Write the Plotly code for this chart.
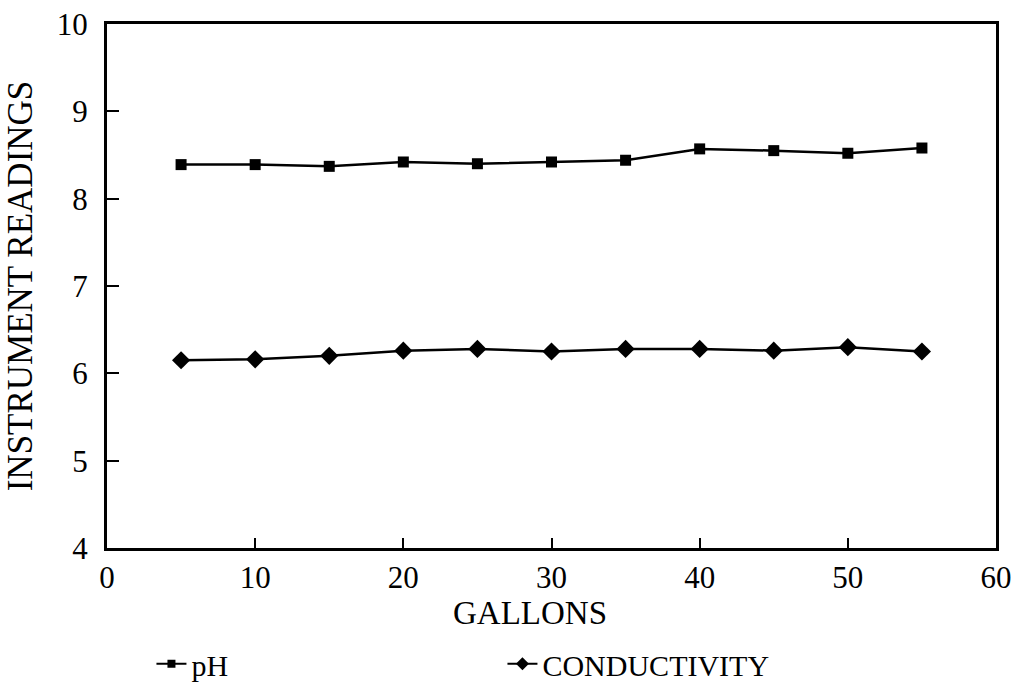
import plotly.graph_objects as go

gallons = [5, 10, 15, 20, 25, 30, 35, 40, 45, 50, 55]
ph = [8.39, 8.39, 8.37, 8.42, 8.40, 8.42, 8.44, 8.57, 8.55, 8.52, 8.58]
conductivity = [6.15, 6.16, 6.20, 6.26, 6.28, 6.25, 6.28, 6.28, 6.26, 6.30, 6.25]

x_ticks = [0, 10, 20, 30, 40, 50, 60]
y_ticks = [4, 5, 6, 7, 8, 9, 10]

FONT = "Liberation Serif"

fig = go.Figure()
fig.add_trace(go.Scatter(
    x=gallons, y=ph, name="pH", mode="lines+markers", showlegend=False,
    line=dict(color="black", width=2.5),
    marker=dict(symbol="square", size=11, color="black"),
))
fig.add_trace(go.Scatter(
    x=gallons, y=conductivity, name="CONDUCTIVITY", mode="lines+markers", showlegend=False,
    line=dict(color="black", width=2.5),
    marker=dict(symbol="diamond", size=14, color="black"),
))
# legend entries (small symbols as in the original key)
fig.add_trace(go.Scatter(
    x=[None], y=[None], name="pH", mode="lines+markers",
    line=dict(color="black", width=2),
    marker=dict(symbol="square", size=8, color="black"),
))
fig.add_trace(go.Scatter(
    x=[None], y=[None], name="CONDUCTIVITY", mode="lines+markers",
    line=dict(color="black", width=2),
    marker=dict(symbol="diamond", size=10, color="black"),
))

fig.add_annotation(
    text="GALLONS", xref="paper", yref="paper", x=0.476, y=-0.124,
    xanchor="center", yanchor="middle", showarrow=False,
    font=dict(family=FONT, size=33, color="black"),
)

fig.update_layout(
    width=1016, height=683,
    margin=dict(l=107, r=20, t=24, b=135, autoexpand=False),
    paper_bgcolor="white", plot_bgcolor="white",
    font=dict(family=FONT, size=31, color="black"),
    showlegend=True,
    legend=dict(
        orientation="h", x=0.05, xref="paper", y=-0.221, yanchor="middle",
        entrywidth=306, entrywidthmode="pixels",
        font=dict(family=FONT, size=30, color="black"),
        bgcolor="rgba(0,0,0,0)",
    ),
    xaxis=dict(
        range=[0, 60], tickvals=x_ticks, ticktext=[str(v) for v in x_ticks],
        ticks="inside", ticklen=10, tickwidth=2, tickcolor="black",
        showline=True, linecolor="black", linewidth=3, mirror=True,
        showgrid=False, zeroline=False,
        tickfont=dict(family=FONT, size=31),
    ),
    yaxis=dict(
        range=[4, 10], tickvals=y_ticks, ticktext=[str(v) for v in y_ticks],
        ticks="inside", ticklen=12, tickwidth=2, tickcolor="black",
        showline=True, linecolor="black", linewidth=3, mirror=True,
        showgrid=False, zeroline=False,
        title=dict(text="INSTRUMENT READINGS", font=dict(family=FONT, size=35), standoff=14),
        tickfont=dict(family=FONT, size=31),
        ticklabelstandoff=10,
    ),
)

fig.write_html("out.html")
